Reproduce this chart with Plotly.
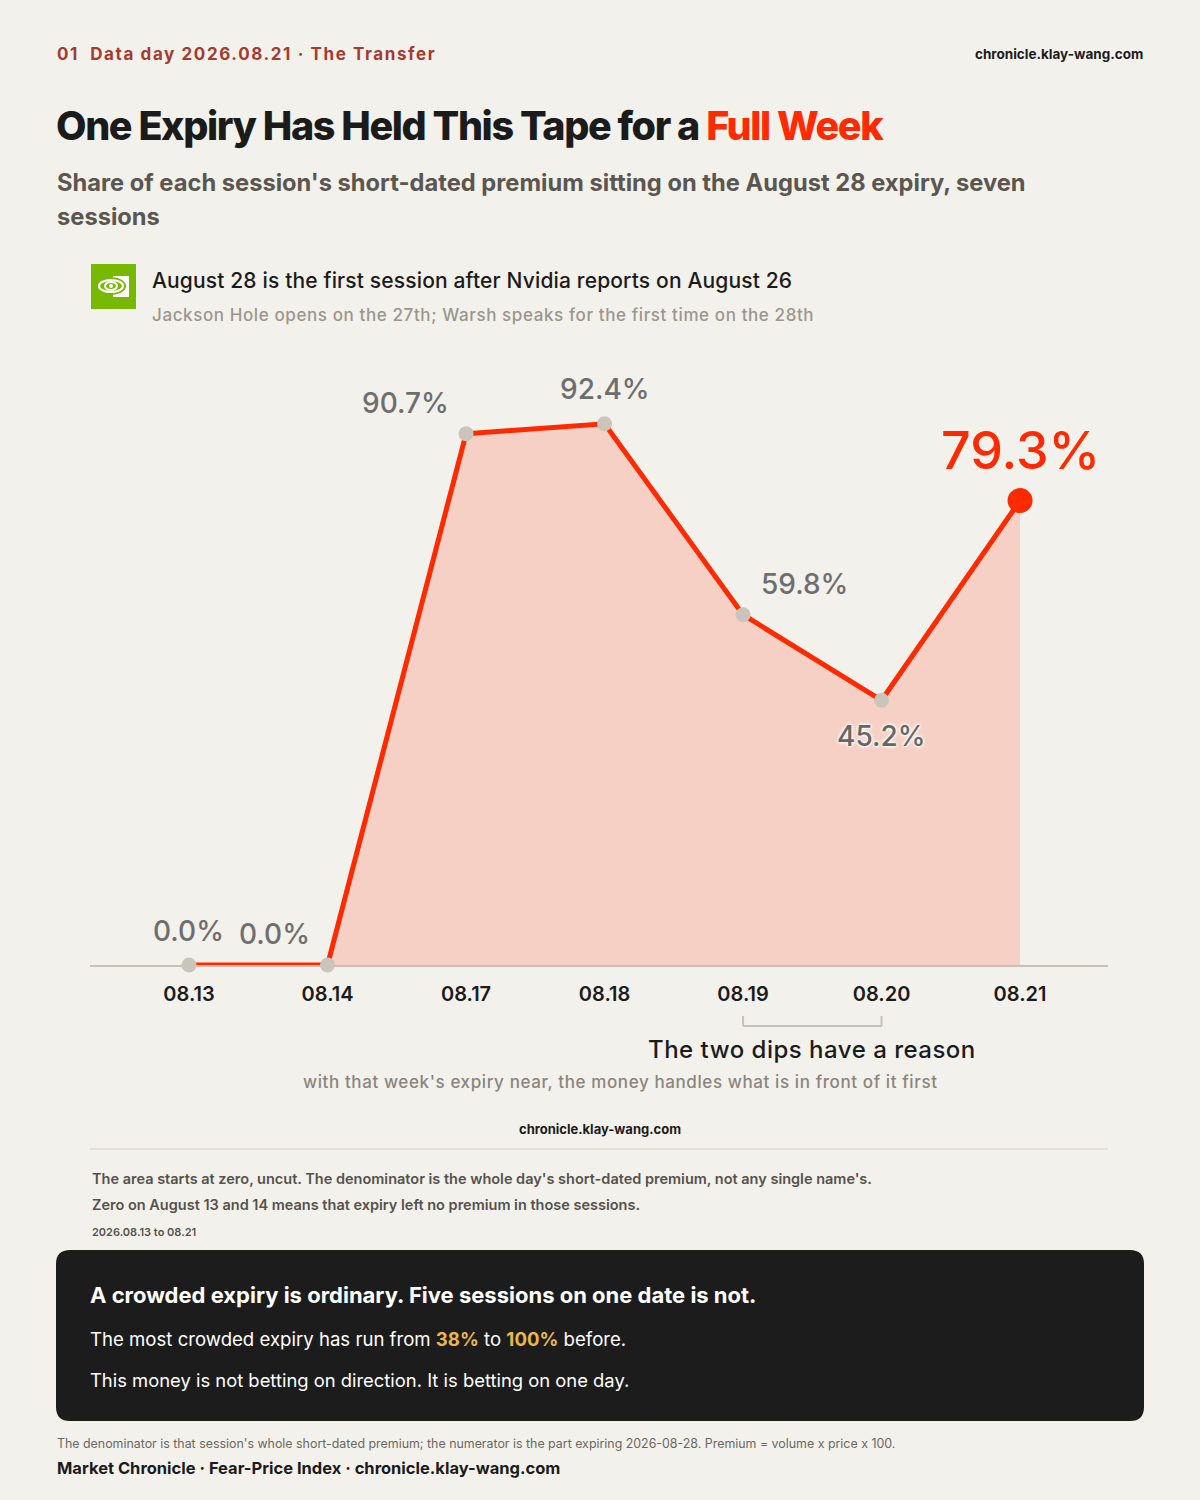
import plotly.graph_objects as go

# ---------------- data ----------------
sessions = ["08.13", "08.14", "08.17", "08.18", "08.19", "08.20", "08.21"]
share_pct = [0.0, 0.0, 90.7, 92.4, 59.8, 45.2, 79.3]
label_text = ["0.0%", "0.0%", "90.7%", "92.4%", "59.8%", "45.2%", "79.3%"]
bracket_sessions = ["08.19", "08.20"]
history_low = "38%"
history_high = "100%"

# ---------------- style ----------------
W, H = 1200, 1500
BG = "#f3f1ec"
RED = "#ff2a00"
FILL = "#f6d0c5"
GREY_DOT = "#c9c5bb"
AXIS = "#c8c2b4"
INK = "#1b1b1b"
FONT = "Inter, 'Noto Sans', sans-serif"

L, R, T, B = 90, 1108, 350, 965  # plot area in px


def xp(px):
    return (px - L) / (R - L)


def yp(py):
    return (B - py) / (B - T)


def ls(text, px):
    return f'<span style="letter-spacing:{px}px">{text}</span>'


fig = go.Figure()

last = len(sessions) - 1
idx = list(range(len(sessions)))
fig.add_trace(go.Scatter(
    x=idx, y=share_pct, mode="lines",
    fill="tozeroy", fillcolor=FILL,
    line=dict(color=RED, width=5),
    hoverinfo="skip", cliponaxis=False, showlegend=False,
))
fig.add_trace(go.Scatter(
    x=idx[:last], y=share_pct[:last], mode="markers",
    marker=dict(size=15, color=GREY_DOT),
    cliponaxis=False, showlegend=False, hoverinfo="skip",
))
fig.add_trace(go.Scatter(
    x=idx[last:], y=share_pct[last:], mode="markers",
    marker=dict(size=25, color=RED),
    cliponaxis=False, showlegend=False, hoverinfo="skip",
))

# data labels (offsets in px)
offsets = [(-1, 34), (-53, 31), (-61, 31), (0, 35), (61, 31), (0, -36), (0, 50)]
for i, (v, t) in enumerate(zip(share_pct, label_text)):
    dx, dy = offsets[i]
    if i == last:
        f = dict(family=FONT, size=52, color=RED, weight=500)
    elif i == 5:
        f = dict(family=FONT, size=28, color="#666666", weight=500,
                 shadow="0 0 2px #fbf8f5, 0 0 2px #fbf8f5, 0 0 3px #fbf8f5, 0 0 3px #fbf8f5, 0 0 4px #fbf8f5")
    else:
        f = dict(family=FONT, size=28, color="#6e6e6e", weight=500)
    fig.add_annotation(x=i, y=v, xref="x", yref="y", text=t, showarrow=False,
                       xshift=dx, yshift=dy, font=f, xanchor="center", yanchor="middle")


def txt(x, y, text, size, color=INK, weight=400, anchor="left", family=FONT):
    fig.add_annotation(x=xp(x), y=yp(y), xref="paper", yref="paper", text=text,
                       showarrow=False, xanchor=anchor, yanchor="middle",
                       font=dict(family=family, size=size, color=color, weight=weight))


# header
txt(55, 54, ls("01&nbsp;&nbsp;Data day 2026.08.21 · The Transfer", 1.6), 17, "#a73a2e", 700)
txt(1145, 54, "chronicle.klay-wang.com", 13.5, INK, 700, anchor="right")

# title
txt(54, 126, '<span style="letter-spacing:-1.4px">One Expiry Has Held This Tape for a '
    f'<span style="color:{RED}">Full Week</span></span>', 39.5, INK, 800)
txt(55, 182, "Share of each session's short-dated premium sitting on the August 28 expiry, seven",
    23.7, "#5b5650", 700)
txt(55, 217, "sessions", 23.7, "#5b5650", 700)

# nvidia note
txt(150, 281, ls("August 28 is the first session after Nvidia reports on August 26", 0.15), 21, INK, 500)
txt(150, 315, ls("Jackson Hole opens on the 27th; Warsh speaks for the first time on the 28th", 0.6),
    17, "#9b968d", 500)

# icon
fig.add_shape(type="rect", xref="paper", yref="paper", x0=xp(91), x1=xp(136), y0=yp(309), y1=yp(264),
              fillcolor="#76b900", line_width=0, layer="above")
fig.add_shape(type="rect", xref="paper", yref="paper", x0=xp(113), x1=xp(129), y0=yp(297), y1=yp(276),
              fillcolor="white", line_width=0, layer="above")
fig.add_shape(type="circle", xref="paper", yref="paper", x0=xp(96), x1=xp(126), y0=yp(295), y1=yp(277),
              fillcolor="#76b900", line_width=0, layer="above")
fig.add_shape(type="circle", xref="paper", yref="paper", x0=xp(99), x1=xp(123), y0=yp(292), y1=yp(280),
              fillcolor="rgba(0,0,0,0)", line=dict(color="white", width=2.2), layer="above")
fig.add_shape(type="circle", xref="paper", yref="paper", x0=xp(105), x1=xp(117), y0=yp(290), y1=yp(282),
              fillcolor="rgba(0,0,0,0)", line=dict(color="white", width=2), layer="above")
fig.add_shape(type="circle", xref="paper", yref="paper", x0=xp(109), x1=xp(113), y0=yp(288), y1=yp(284),
              fillcolor="white", line_width=0, layer="above")

# bracket under the two dips
b0 = sessions.index(bracket_sessions[0])
b1 = sessions.index(bracket_sessions[1])
for xa, xb, ya, yb in [(b0, b0, 1016, 1026), (b1, b1, 1016, 1026), (b0, b1, 1026, 1026)]:
    fig.add_shape(type="line", xref="x", yref="paper", x0=xa, x1=xb, y0=yp(ya), y1=yp(yb),
                  line=dict(color=AXIS, width=2))
txt(812, 1049, ls("The two dips have a reason", 0.5), 24, INK, 500, anchor="center")
txt(620, 1082, ls("with that week's expiry near, the money handles what is in front of it first", 0.6),
    17, "#8a857d", 500, anchor="center")

txt(600, 1129, "chronicle.klay-wang.com", 13, INK, 700, anchor="center")
fig.add_shape(type="line", xref="paper", yref="paper", x0=xp(90), x1=xp(1108), y0=yp(1149), y1=yp(1149),
              line=dict(color="#dedad2", width=1.5))

txt(90, 1178, "The area starts at zero, uncut. The denominator is the whole day's short-dated premium, not any single name's.",
    14.5, "#55524d", 600)
txt(90, 1204, "Zero on August 13 and 14 means that expiry left no premium in those sessions.",
    14.5, "#55524d", 600)
txt(90, 1232, "2026.08.13 to 08.21", 11, "#55524d", 600)

# dark box with rounded corners
x0b, x1b, y0b, y1b, r = 56, 1144, 1250, 1421, 14
rx = r / (R - L)
ry = r / (B - T)
X0, X1, Y0, Y1 = xp(x0b), xp(x1b), yp(y1b), yp(y0b)
path = (f"M {X0+rx},{Y0} L {X1-rx},{Y0} Q {X1},{Y0} {X1},{Y0+ry} "
        f"L {X1},{Y1-ry} Q {X1},{Y1} {X1-rx},{Y1} L {X0+rx},{Y1} Q {X0},{Y1} {X0},{Y1-ry} "
        f"L {X0},{Y0+ry} Q {X0},{Y0} {X0+rx},{Y0} Z")
fig.add_shape(type="path", xref="paper", yref="paper", path=path, fillcolor="#1c1c1c", line_width=0)

GOLD = "#e8b84a"
txt(88, 1295, "A crowded expiry is ordinary. Five sessions on one date is not.", 22, "white", 700)
txt(88, 1339, f'The most crowded expiry has run from <b style="color:{GOLD}">{history_low}</b> to '
    f'<b style="color:{GOLD}">{history_high}</b> before.', 18.6, "white", 400)
txt(88, 1380, "This money is not betting on direction. It is betting on one day.", 18.4, "white", 400)

txt(55, 1443, "The denominator is that session's whole short-dated premium; the numerator is the part expiring 2026-08-28. Premium = volume x price x 100.",
    12.4, "#6b6760", 400)
txt(55, 1468, "Market Chronicle · Fear-Price Index · chronicle.klay-wang.com", 16.5, INK, 700)

fig.update_layout(
    width=W, height=H,
    paper_bgcolor=BG, plot_bgcolor=BG,
    margin=dict(l=L, r=W - R, t=T, b=H - B, pad=0),
    showlegend=False,
    xaxis=dict(
        tickmode="array", tickvals=idx, ticktext=sessions,
        range=[-0.715, 6.635], showgrid=False, zeroline=False,
        showline=True, linecolor=AXIS, linewidth=2, layer="below traces",
        ticks="", ticklabelstandoff=10,
        tickfont=dict(family=FONT, size=20, color=INK, weight=600),
        fixedrange=True,
    ),
    yaxis=dict(range=[0, 105], visible=False, showgrid=False, zeroline=False, fixedrange=True),
)

fig.write_html("out.html", config={"displayModeBar": False, "staticPlot": True},
               post_script="document.body.style.margin='0';document.body.style.background='" + BG + "';")
